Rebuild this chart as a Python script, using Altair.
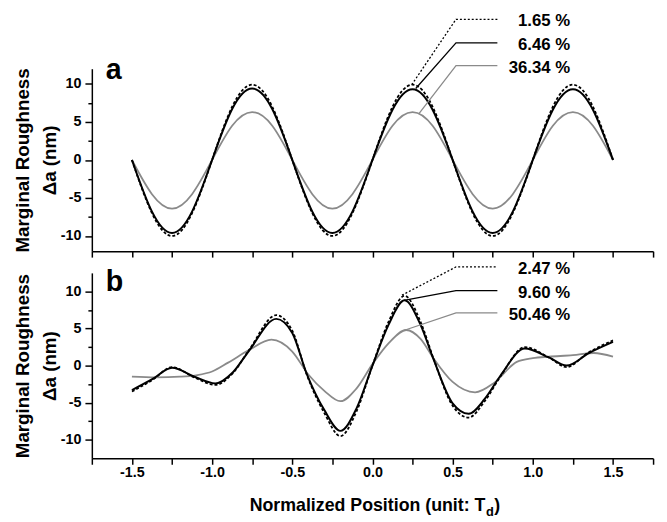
import altair as alt
import pandas as pd

# ---------------- data ----------------
X_TOP = [-1.5, -1.375, -1.25, -1.125, -1.0, -0.875, -0.75, -0.625, -0.5, -0.375, -0.25, -0.125,
         0.0, 0.125, 0.25, 0.375, 0.5, 0.625, 0.75, 0.875, 1.0, 1.125, 1.25, 1.375, 1.5]
TOP_DOT = [0, -7.0, -10.0, -7.0, 0, 7.0, 9.9, 7.0, 0, -7.0, -10.0, -7.0, 0, 7.0, 9.9, 7.0,
           0, -7.0, -10.0, -7.0, 0, 7.0, 9.9, 7.0, 0]
TOP_SOLID = [0, -6.8, -9.6, -6.8, 0, 6.7, 9.4, 6.7, 0, -6.8, -9.6, -6.8, 0, 6.6, 9.3, 6.6,
             0, -6.8, -9.6, -6.8, 0, 6.6, 9.3, 6.6, 0]
TOP_GRAY = [0, -4.5, -6.4, -4.5, 0, 4.5, 6.3, 4.5, 0, -4.5, -6.4, -4.5, 0, 4.5, 6.3, 4.5,
            0, -4.5, -6.4, -4.5, 0, 4.5, 6.3, 4.5, 0]

BOT_X = [-1.5, -1.37, -1.25, -1.11, -0.98, -0.87, -0.77, -0.6, -0.5, -0.41, -0.3, -0.2, -0.1,
         0.0, 0.1, 0.2, 0.3, 0.38, 0.5, 0.6, 0.7, 0.8, 0.95, 1.1, 1.21, 1.35, 1.5]
BOT_DOT = [-3.5, -1.9, -0.2, -1.6, -2.6, -1.0, 2.1, 6.8, 4.7, -1.2, -6.4, -9.5, -6.2, 0.0,
           5.9, 9.4, 5.9, 1.0, -5.4, -7.0, -4.8, -1.4, 2.5, 1.1, -0.2, 1.8, 3.4]
BOT_SOLID = [-3.3, -1.8, -0.3, -1.5, -2.4, -0.9, 2.0, 6.3, 4.4, -1.1, -6.0, -8.8, -5.8, 0.0,
             5.5, 8.8, 5.5, 0.9, -5.1, -6.5, -4.5, -1.3, 2.3, 1.1, 0.0, 1.7, 3.2]
BOT_GRAY_X = [-1.5, -1.35, -1.2, -1.1, -1.0, -0.9, -0.77, -0.63, -0.5, -0.4, -0.3, -0.2, -0.1,
              0.0, 0.1, 0.21, 0.3, 0.38, 0.5, 0.64, 0.76, 0.9, 1.0, 1.1, 1.25, 1.38, 1.5]
BOT_GRAY = [-1.5, -1.6, -1.5, -1.3, -0.8, 0.4, 2.1, 3.5, 1.9, -1.2, -3.4, -4.8, -3.1, 0.2,
            3.0, 4.8, 3.6, 1.0, -2.2, -3.6, -2.3, 0.5, 1.0, 1.2, 1.4, 1.7, 1.2]

TOP_LABELS = ["1.65 %", "6.46 %", "36.34 %"]
BOT_LABELS = ["2.47 %", "9.60 %", "50.46 %"]
LEADER_X = [0.521, 0.779]
TOP_LEAD_START = [(0.245, 9.9), (0.27, 9.4), (0.29, 6.1)]
TOP_LEAD_Y = [18.5, 15.4, 12.4]
BOT_LEAD_START = [(0.184, 9.5), (0.196, 8.8), (0.19, 4.7)]
BOT_LEAD_Y = [13.3, 10.1, 7.1]
LABEL_X = 1.233

X_TICKS = [-1.75, -1.5, -1.25, -1.0, -0.75, -0.5, -0.25, 0.0, 0.25, 0.5, 0.75, 1.0, 1.25, 1.5, 1.75]
Y_TICKS = [-10, -7.5, -5, -2.5, 0, 2.5, 5, 7.5, 10]

FONT = "Liberation Sans"
GRAY = "#8a8a8a"
STYLES = [("black", [3, 2], 1.8), ("black", None, 2.0), (GRAY, None, 1.8)]


def line_df(xs, ys):
    return pd.DataFrame({"x": xs, "y": ys})


def panel(curves, interp, lead_start, lead_y, labels, letter, letter_y, ydom, h, x_labels, extra):
    xs = alt.Scale(domain=[-1.75, 1.75], nice=False, zero=False)
    ys = alt.Scale(domain=ydom, nice=False, zero=False)
    xaxis = alt.Axis(values=X_TICKS, labels=x_labels, title=None, labelOverlap=False, labelFlush=False,
                     tickSize=6, labelPadding=1,
                     labelExpr="abs(datum.value*2 - round(datum.value*2)) < 0.001 && abs(datum.value) < 1.6 ? "
                               "(datum.value < 0 ? '-' : '') + format(abs(datum.value), '.1f') : ''")
    yaxis = alt.Axis(values=Y_TICKS, title=["Marginal Roughness", "Δa (nm)"], labelOverlap=False,
                     labelFlush=False,
                     tickSize={"condition": {"test": "abs(datum.value % 5) < 0.01", "value": 7}, "value": 4},
                     labelExpr="abs(datum.value % 5) < 0.01 ? toString(datum.value) : ''")
    X = alt.X("x:Q", scale=xs, axis=xaxis)
    Y = alt.Y("y:Q", scale=ys, axis=yaxis)
    layers = []
    # curves: order gray, dashed, solid
    for idx in (2, 0, 1):
        cx, cy = curves[idx]
        color, dash, w = STYLES[idx]
        kw = dict(color=color, strokeWidth=w, interpolate=interp, clip=False)
        if dash:
            kw["strokeDash"] = dash
        layers.append(alt.Chart(line_df(cx, cy)).mark_line(**kw).encode(x=X, y=Y))
    # leader lines
    for i in range(3):
        sx, sy = lead_start[i]
        color, dash, w = STYLES[i]
        kw = dict(color=color, strokeWidth=1.3, clip=False)
        if i == 0:
            kw["strokeDash"] = [2, 2]
        df = pd.DataFrame({"x": [sx, LEADER_X[0], LEADER_X[1]], "y": [sy, lead_y[i], lead_y[i]],
                           "o": [0, 1, 2]})
        layers.append(alt.Chart(df).mark_line(**kw).encode(x=X, y=Y, order="o:Q"))
    lab = pd.DataFrame({"x": [LABEL_X] * 3, "y": lead_y, "t": labels})
    layers.append(alt.Chart(lab).mark_text(align="right", baseline="middle", dy=2, font=FONT,
                                           fontWeight="bold", fontSize=17, color="black", clip=False)
                  .encode(x=X, y=Y, text="t:N"))
    one = pd.DataFrame({"k": [0]})
    layers.append(alt.Chart(one).mark_text(align="left", baseline="alphabetic", font=FONT,
                                           fontWeight="bold", fontSize=29, color="black")
                  .encode(x=alt.value(14), y=alt.value(letter_y), text=alt.value(letter)))
    layers += extra
    return alt.layer(*layers).properties(width=569, height=h)


one = pd.DataFrame({"k": [0]})
xtitle = [
    alt.Chart(one).mark_text(align="right", baseline="alphabetic", font=FONT, fontWeight="bold",
                             fontSize=18, color="black")
    .encode(x=alt.value(399), y=alt.value(241), text=alt.value("Normalized Position (unit: T")),
    alt.Chart(one).mark_text(align="left", baseline="alphabetic", font=FONT, fontWeight="bold",
                             fontSize=13, color="black")
    .encode(x=alt.value(399.5), y=alt.value(246), text=alt.value("d")),
    alt.Chart(one).mark_text(align="left", baseline="alphabetic", font=FONT, fontWeight="bold",
                             fontSize=18, color="black")
    .encode(x=alt.value(408), y=alt.value(241), text=alt.value(")")),
]

top = panel([(X_TOP, TOP_DOT), (X_TOP, TOP_SOLID), (X_TOP, TOP_GRAY)], "natural",
            TOP_LEAD_START, TOP_LEAD_Y, TOP_LABELS, "a", 10, [-12, 12], 185, False, [])
bot = panel([(BOT_X, BOT_DOT), (BOT_X, BOT_SOLID), (BOT_GRAY_X, BOT_GRAY)], "monotone",
            BOT_LEAD_START, BOT_LEAD_Y, BOT_LABELS, "b", 18, [-12.5, 12.5], 188, True, xtitle)

chart = (
    alt.vconcat(top, bot, spacing=22, bounds="flush")
    .properties(padding={"left": 6, "top": 0, "right": 5, "bottom": 0})
    .configure_view(stroke=None)
    .configure_axis(domainColor="black", domainWidth=1.5, tickColor="black", tickWidth=1.5,
                    tickSize=7, labelFont=FONT, labelFontWeight="bold", labelFontSize=14.5,
                    labelColor="black", labelPadding=4, titleFont=FONT, titleFontSize=19,
                    titleFontWeight="bold", titleColor="black", titleLineHeight=27,
                    titlePadding=1, grid=False)
)

chart.save("out.html", embed_options={"renderer": "svg", "actions": False})
